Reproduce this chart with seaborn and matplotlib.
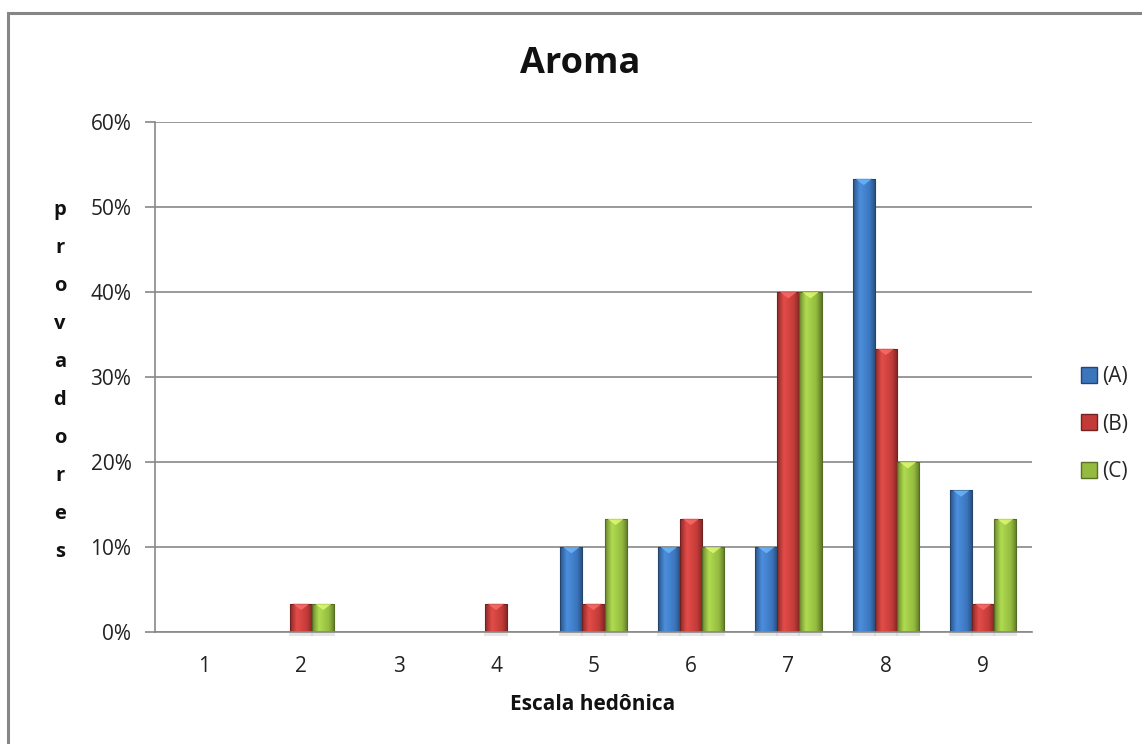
import numpy as np
import pandas as pd
import matplotlib
matplotlib.use("Agg")
import matplotlib.pyplot as plt
import matplotlib.colors as mcolors
from matplotlib.patches import Polygon, Rectangle
from matplotlib.lines import Line2D
import seaborn as sns

# Percentage of tasters per hedonic score, per sample
scores = ["1", "2", "3", "4", "5", "6", "7", "8", "9"]
sample_a = [0, 0, 0, 0, 10.0, 10.0, 10.0, 53.33, 16.67]
sample_b = [0, 3.33, 0, 3.33, 3.33, 13.33, 40.0, 33.33, 3.33]
sample_c = [0, 3.33, 0, 0, 13.33, 10.0, 40.0, 20.0, 13.33]
samples = ["(A)", "(B)", "(C)"]
y_ticks = [0, 10, 20, 30, 40, 50, 60]

base_colors = {"(A)": "#3b76bd", "(B)": "#c23b38", "(C)": "#94bb3f"}

df = pd.DataFrame({
    "score": scores * 3,
    "sample": [samples[0]] * 9 + [samples[1]] * 9 + [samples[2]] * 9,
    "pct": sample_a + sample_b + sample_c,
})

sns.set_style("white")
plt.rcParams["font.family"] = ["Open Sans", "DejaVu Sans"]

fig = plt.figure(figsize=(11.42, 7.44), dpi=100)
ax = fig.add_axes([155 / 1142, 1 - 632 / 744, 877 / 1142, 510 / 744])

sns.barplot(data=df, x="score", y="pct", hue="sample", hue_order=samples,
            palette=base_colors, width=0.68, gap=0.0, ax=ax, legend=False,
            saturation=1, linewidth=0.8)

ax.set_xlim(-0.5, 8.5)
ax.set_ylim(0, 60)

# Shade every bar with a horizontal gradient and a light chevron on top
for patch in list(ax.patches):
    h = patch.get_height()
    if h <= 0:
        patch.set_visible(False)
        continue
    x, y = patch.get_x(), patch.get_y()
    w = patch.get_width()
    base = np.array(mcolors.to_rgb(patch.get_facecolor()))
    dark = base * 0.72
    light = np.clip(base * 1.12 + 0.04, 0, 1)
    cmap = mcolors.LinearSegmentedColormap.from_list(
        "bar", [(0, dark), (0.3, light), (0.75, base), (1.0, dark * 0.9)])
    grad = np.linspace(0, 1, 64).reshape(1, -1)
    im = ax.imshow(grad, cmap=cmap, aspect="auto",
                   extent=(x, x + w, y, y + h), zorder=2.1,
                   interpolation="bicubic")
    im.set_clip_path(patch)
    patch.set_edgecolor(tuple(dark * 0.8))
    patch.set_zorder(2.2)
    patch.set_facecolor("none")
    d = min(0.75, h * 0.5)
    tri = Polygon([(x + 0.12 * w, y + h), (x + 0.88 * w, y + h),
                   (x + 0.5 * w, y + h - d)], closed=True,
                  facecolor=tuple(np.clip(light * 1.15 + 0.1, 0, 1)),
                  edgecolor="none", alpha=0.75, zorder=2.3)
    ax.add_patch(tri)
    # soft shadow beneath each bar
    ax.add_patch(Rectangle((x - 0.01, -0.5), w + 0.02, 0.5, facecolor="#c8c8c8",
                           edgecolor="none", alpha=0.45, clip_on=False, zorder=1.5))

ax.set_xlim(-0.5, 8.5)
ax.set_ylim(0, 60)

# Axes styling
ax.set_yticks(y_ticks)
ax.set_yticklabels([f"{v}%" for v in y_ticks], fontsize=15, color="#222222")
ax.yaxis.grid(True, color="#888888", linewidth=1.2)
ax.set_axisbelow(True)
ax.set_xticks(range(len(scores)))
ax.set_xticklabels(scores, fontsize=15, color="#222222")
ax.set_xticks(np.arange(-0.5, 9.0, 1.0), minor=True)
ax.tick_params(axis="x", which="major", length=0, pad=17)
ax.tick_params(axis="x", which="minor", length=6, width=1.2, color="#888888",
               direction="out")
ax.tick_params(axis="y", length=7, width=1.2, color="#888888", direction="out",
               pad=10, left=True)
for side in ["top", "right"]:
    ax.spines[side].set_visible(False)
for side in ["left", "bottom"]:
    ax.spines[side].set_color("#888888")
    ax.spines[side].set_linewidth(1.2)
ax.set_xlabel("")
ax.set_ylabel("")

# Title and axis titles
fig.text(580 / 1142, 1 - 64 / 744, "Aroma", ha="center", va="center",
         fontsize=26, fontweight="bold", color="#111111")
fig.text(593 / 1142, 1 - 705 / 744, "Escala hedônica", ha="center",
         va="center", fontsize=15, fontweight="bold", color="#111111")
for i, ch in enumerate("provadores"):
    fig.text(60 / 1142, 1 - (210 + i * 38) / 744, ch, ha="center",
             va="center", fontsize=14.5, fontweight="bold", color="#111111")

# Legend
handles = [Line2D([0], [0], marker="s", linestyle="none", markersize=11,
                  markerfacecolor=base_colors[s],
                  markeredgecolor=tuple(np.array(mcolors.to_rgb(base_colors[s])) * 0.6))
           for s in samples]
fig.legend(handles, samples, loc="center left",
           bbox_to_anchor=(1068 / 1142, 1 - 424 / 744), frameon=False,
           fontsize=15, labelspacing=1.28, handletextpad=0.15,
           handlelength=1.0, borderpad=0)

# Chart frame
frame = Rectangle((8 / 1142, -0.05), 1.1, 1 - 13 / 744 + 0.05,
                  transform=fig.transFigure, fill=False, edgecolor="#868686",
                  linewidth=2.2, clip_on=False)
fig.patches.append(frame)

fig.savefig("out.png", dpi=100, facecolor="white")
